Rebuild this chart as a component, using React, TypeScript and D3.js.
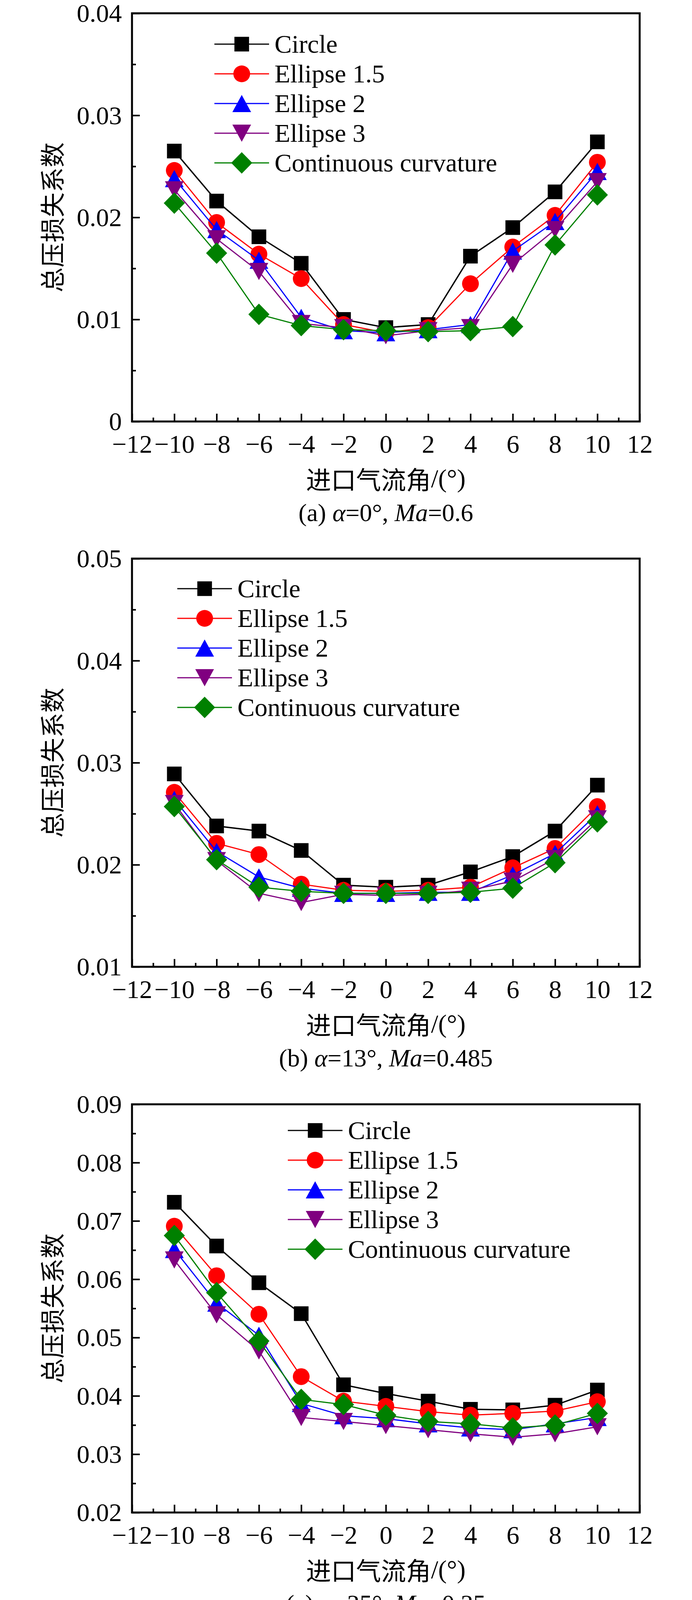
import React, { useEffect, useRef } from 'react';
import * as d3 from 'd3';

// inlet flow angle (x) values
const angles = [-10, -8, -6, -4, -2, 0, 2, 4, 6, 8, 10];
const xMajorTicks = [-12, -10, -8, -6, -4, -2, 0, 2, 4, 6, 8, 10, 12];
const xMinorTicks = [-11, -9, -7, -5, -3, -1, 1, 3, 5, 7, 9, 11];

const seriesNames = ['Circle', 'Ellipse 1.5', 'Ellipse 2', 'Ellipse 3', 'Continuous curvature'];
const seriesColors = ['#000000', '#ff0000', '#0000ff', '#800080', '#008000'];
const seriesMarkers = ['square', 'circle', 'triangle', 'triangleDown', 'diamond'];

// (a) alpha=0, Ma=0.6
const lossA_circle = [0.0265, 0.0216, 0.0181, 0.0155, 0.0100, 0.0092, 0.0095, 0.0162, 0.0190, 0.0225, 0.0274];
const lossA_e15 = [0.0246, 0.0195, 0.0164, 0.0140, 0.0095, 0.0087, 0.0092, 0.0135, 0.0171, 0.0202, 0.0254];
const lossA_e2 = [0.0238, 0.0188, 0.0158, 0.0102, 0.0089, 0.0087, 0.0090, 0.0095, 0.0167, 0.0196, 0.0245];
const lossA_e3 = [0.0227, 0.0179, 0.0147, 0.0096, 0.0092, 0.0084, 0.0089, 0.0092, 0.0154, 0.0188, 0.0235];
const lossA_cc = [0.0214, 0.0165, 0.0105, 0.0094, 0.0090, 0.0089, 0.0088, 0.0089, 0.0093, 0.0173, 0.0222];
const yTicksA = [0, 0.01, 0.02, 0.03, 0.04];
const yMinorA = [0.005, 0.015, 0.025, 0.035];

// (b) alpha=13, Ma=0.485
const lossB_circle = [0.0289, 0.0238, 0.0233, 0.0214, 0.0180, 0.0178, 0.0180, 0.0193, 0.0208, 0.0233, 0.0278];
const lossB_e15 = [0.0271, 0.0221, 0.0210, 0.0181, 0.0175, 0.0174, 0.0175, 0.0178, 0.0197, 0.0216, 0.0257];
const lossB_e2 = [0.0264, 0.0213, 0.0188, 0.0177, 0.0172, 0.0172, 0.0173, 0.0173, 0.0190, 0.0211, 0.0250];
const lossB_e3 = [0.0260, 0.0204, 0.0172, 0.0163, 0.0171, 0.0170, 0.0171, 0.0175, 0.0184, 0.0206, 0.0245];
const lossB_cc = [0.0257, 0.0205, 0.0178, 0.0174, 0.0172, 0.0172, 0.0172, 0.0173, 0.0177, 0.0202, 0.0242];
const yTicksB = [0.01, 0.02, 0.03, 0.04, 0.05];
const yMinorB = [0.015, 0.025, 0.035, 0.045];

// (c) alpha=25, Ma=0.35
const lossC_circle = [0.0732, 0.0657, 0.0594, 0.0541, 0.0419, 0.0404, 0.0391, 0.0377, 0.0376, 0.0384, 0.0410];
const lossC_e15 = [0.0691, 0.0606, 0.0540, 0.0433, 0.0391, 0.0382, 0.0373, 0.0367, 0.0370, 0.0374, 0.0390];
const lossC_e2 = [0.0651, 0.0559, 0.0504, 0.0387, 0.0366, 0.0361, 0.0352, 0.0345, 0.0342, 0.0352, 0.0363];
const lossC_e3 = [0.0633, 0.0539, 0.0477, 0.0363, 0.0356, 0.0349, 0.0342, 0.0335, 0.0329, 0.0335, 0.0347];
const lossC_cc = [0.0675, 0.0577, 0.0494, 0.0394, 0.0385, 0.0367, 0.0356, 0.0352, 0.0345, 0.0350, 0.0370];
const yTicksC = [0.02, 0.03, 0.04, 0.05, 0.06, 0.07, 0.08, 0.09];
const yMinorC = [0.025, 0.035, 0.045, 0.055, 0.065, 0.075, 0.085];

const xTitle = '进口气流角';
const yTitle = '总压损失系数';

interface Panel {
  series: number[][];
  yTicks: number[];
  yMinor: number[];
  top: number;
  legendX: number;
  legendY: number;
  label: string;
  alpha: string;
  ma: string;
}

const panels: Panel[] = [
  { series: [lossA_circle, lossA_e15, lossA_e2, lossA_e3, lossA_cc], yTicks: yTicksA, yMinor: yMinorA,
    top: 34, legendX: 549, legendY: 113, label: '(a)', alpha: '0', ma: '0.6' },
  { series: [lossB_circle, lossB_e15, lossB_e2, lossB_e3, lossB_cc], yTicks: yTicksB, yMinor: yMinorB,
    top: 1430, legendX: 454, legendY: 1507, label: '(b)', alpha: '13', ma: '0.485' },
  { series: [lossC_circle, lossC_e15, lossC_e2, lossC_e3, lossC_cc], yTicks: yTicksC, yMinor: yMinorC,
    top: 2827, legendX: 737, legendY: 2894, label: '(c)', alpha: '25', ma: '0.35' },
];

const serif = '"Liberation Serif", "Times New Roman", serif';
const cjk = '"Noto Sans CJK SC", "Noto Sans", sans-serif';

const drawMarker = (g: any, shape: string, x: number, y: number, color: string) => {
  if (shape === 'square') {
    g.append('rect').attr('x', x - 18.75).attr('y', y - 18.75)
      .attr('width', 37.5).attr('height', 37.5).attr('fill', color);
  } else if (shape === 'circle') {
    g.append('circle').attr('cx', x).attr('cy', y).attr('r', 21.5).attr('fill', color);
  } else if (shape === 'triangle') {
    g.append('path').attr('d', `M${x},${y - 22}L${x + 24},${y + 22}L${x - 24},${y + 22}Z`).attr('fill', color);
  } else if (shape === 'triangleDown') {
    g.append('path').attr('d', `M${x},${y + 22}L${x + 24},${y - 22}L${x - 24},${y - 22}Z`).attr('fill', color);
  } else {
    g.append('path').attr('d', `M${x},${y - 27.5}L${x + 27},${y}L${x},${y + 27.5}L${x - 27},${y}Z`).attr('fill', color);
  }
};

const fmtX = (d: number) => (d < 0 ? `\u2212${Math.abs(d)}` : `${d}`);
const fmtY = (d: number) => (d === 0 ? '0' : d.toFixed(2));

const App: React.FC = () => {
  const ref = useRef<SVGSVGElement | null>(null);

  useEffect(() => {
    document.body.style.margin = '0';
    const width = 1772, height = 4157;
    const left = 338, right = 1638, plotH = 1045;

    const svg = d3.select(ref.current)
      .attr('width', width)
      .attr('height', height)
      .style('display', 'block')
      .style('background', '#fff');
    svg.selectAll('*').remove();

    panels.forEach((p) => {
      const bottom = p.top + plotH;
      const x = d3.scaleLinear().domain([-12, 12]).range([left, right]);
      const y = d3.scaleLinear()
        .domain([p.yTicks[0], p.yTicks[p.yTicks.length - 1]])
        .range([bottom, p.top]);

      const g = svg.append('g');

      // minor ticks
      g.append('g').attr('transform', `translate(0,${bottom})`)
        .call(d3.axisBottom(x).tickValues(xMinorTicks).tickSize(-10).tickFormat(() => ''))
        .call((a) => a.select('.domain').remove())
        .call((a) => a.selectAll('line').attr('stroke-width', 4));
      g.append('g').attr('transform', `translate(${left},0)`)
        .call(d3.axisLeft(y).tickValues(p.yMinor).tickSize(-10).tickFormat(() => ''))
        .call((a) => a.select('.domain').remove())
        .call((a) => a.selectAll('line').attr('stroke-width', 4));

      // major ticks + labels
      const xa = g.append('g').attr('transform', `translate(0,${bottom})`)
        .call(d3.axisBottom(x).tickValues(xMajorTicks).tickSize(-20).tickPadding(33).tickFormat((d: any) => fmtX(d)));
      xa.select('.domain').remove();
      xa.selectAll('line').attr('stroke-width', 4);
      xa.attr('font-family', serif).attr('font-size', 66);
      xa.selectAll('text').attr('fill', '#000');

      const ya = g.append('g').attr('transform', `translate(${left},0)`)
        .call(d3.axisLeft(y).tickValues(p.yTicks).tickSize(-20).tickPadding(26).tickFormat((d: any) => fmtY(d)));
      ya.select('.domain').remove();
      ya.selectAll('line').attr('stroke-width', 4);
      ya.attr('font-family', serif).attr('font-size', 66);
      ya.selectAll('text').attr('fill', '#000').attr('dy', '0.33em');

      // frame
      g.append('rect')
        .attr('x', left).attr('y', p.top)
        .attr('width', right - left).attr('height', plotH)
        .attr('fill', 'none').attr('stroke', '#000').attr('stroke-width', 5);

      // series lines, then markers, in drawing order
      const line = d3.line<number>().x((_, i) => x(angles[i])).y((d) => y(d));
      p.series.forEach((vals, si) => {
        const color = seriesColors[si];
        g.append('path').datum(vals)
          .attr('d', line)
          .attr('fill', 'none')
          .attr('stroke', color)
          .attr('stroke-width', si === 0 ? 3.5 : 3);
        vals.forEach((v, i) => drawMarker(g, seriesMarkers[si], x(angles[i]), y(v), color));
      });

      // legend
      seriesNames.forEach((name, si) => {
        const ly = p.legendY + si * 76;
        g.append('line')
          .attr('x1', p.legendX).attr('x2', p.legendX + 140)
          .attr('y1', ly).attr('y2', ly)
          .attr('stroke', seriesColors[si]).attr('stroke-width', 3);
        drawMarker(g, seriesMarkers[si], p.legendX + 70, ly, seriesColors[si]);
        g.append('text')
          .attr('x', p.legendX + 154).attr('y', ly + 22)
          .attr('font-family', serif).attr('font-size', 66)
          .text(name);
      });

      // axis titles
      const cx = (left + right) / 2;
      const xt = g.append('text')
        .attr('x', cx).attr('y', bottom + 145)
        .attr('text-anchor', 'middle')
        .attr('dominant-baseline', 'central')
        .attr('font-size', 64);
      xt.append('tspan').attr('font-family', cjk).text(xTitle);
      xt.append('tspan').attr('font-family', serif).attr('font-size', 66).text('/(°)');

      g.append('text')
        .attr('transform', `translate(130,${(p.top + bottom) / 2}) rotate(-90)`)
        .attr('text-anchor', 'middle')
        .attr('dominant-baseline', 'central')
        .attr('font-family', cjk)
        .attr('font-size', 64)
        .text(yTitle);

      // caption
      const cap = g.append('text')
        .attr('x', cx).attr('y', bottom + 255)
        .attr('text-anchor', 'middle')
        .attr('font-family', serif).attr('font-size', 64);
      cap.append('tspan').text(`${p.label} `);
      cap.append('tspan').attr('font-style', 'italic').text('α');
      cap.append('tspan').text(`=${p.alpha}°, `);
      cap.append('tspan').attr('font-style', 'italic').text('Ma');
      cap.append('tspan').text(`=${p.ma}`);
    });
  }, []);

  return <svg ref={ref}></svg>;
};

export default App;
